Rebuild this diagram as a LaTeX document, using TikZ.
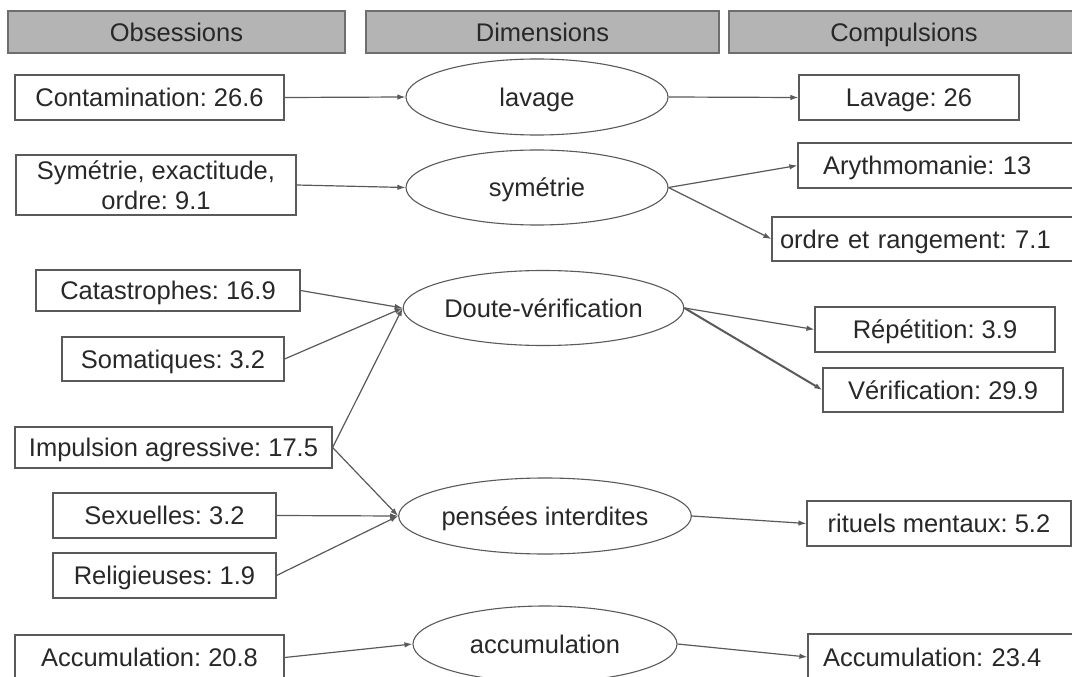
\documentclass[tikz,border=0pt]{standalone}
\usepackage{fontspec}
\setmainfont{Liberation Sans}
\frenchspacing
\usetikzlibrary{shapes.geometric,arrows.meta}
\definecolor{txt}{RGB}{40,40,40}
\definecolor{ln}{RGB}{90,90,90}
\definecolor{hdrfill}{RGB}{180,180,180}
\definecolor{hdrline}{RGB}{110,110,110}
\tikzset{
  every node/.style={font=\fontsize{25.5}{30}\selectfont\frenchspacing, text=txt},
  oneline/.style={text height=18.3pt, text depth=0pt},
  hdr/.style={oneline, draw=hdrline, fill=hdrfill, line width=1.2pt, inner sep=0pt, minimum height=42pt},
  box/.style={draw=ln, line width=1.2pt, inner sep=0pt, fill=white},
  ell/.style={oneline, draw=ln, line width=1.1pt, ellipse, inner sep=0pt, fill=white},
  conn/.style={draw=ln, line width=1.2pt, -{Latex[length=8pt,width=5.5pt]}},
}
\begin{document}
\begin{tikzpicture}[x=1pt,y=-1pt]
\useasboundingbox (0,0) rectangle (1072,677);
\clip (0,0) rectangle (1072,677);
\fill[white] (0,0) rectangle (1072,677);
% headers
\node[hdr, minimum width=337pt] (hobs) at (176.5,32) {Obsessions};
\node[hdr, minimum width=353pt] (hdim) at (542.5,32) {Dimensions};
\node[hdr, minimum width=350pt] (hcomp) at (904,32) {Compulsions};
% obsessions
\node[box, oneline, minimum width=269pt, minimum height=45pt] (contam) at (149.5,97.5) {Contamination: 26.6};
\node[box, minimum width=280pt, minimum height=60pt, align=center] (symo) at (156,185) {Symétrie, exactitude,\\ordre: 9.1};
\node[box, oneline, minimum width=264pt, minimum height=41pt] (catas) at (168,290.5) {Catastrophes: 16.9};
\node[box, oneline, minimum width=222pt, minimum height=44pt] (somat) at (173,359) {Somatiques: 3.2};
\node[box, oneline, minimum width=317pt, minimum height=41pt] (impul) at (173.5,447.5) {Impulsion agressive: 17.5};
\node[box, oneline, minimum width=223pt, minimum height=45pt] (sexu) at (164.5,515.5) {Sexuelles: 3.2};
\node[box, oneline, minimum width=223pt, minimum height=45pt] (relig) at (164.5,575.5) {Religieuses: 1.9};
\node[box, oneline, minimum width=269pt, minimum height=45pt] (accuo) at (149.5,657.5) {Accumulation: 20.8};
% dimensions
\node[ell, minimum width=262pt, minimum height=76pt] (lavage) at (537,97) {lavage};
\node[ell, minimum width=262pt, minimum height=75pt] (symd) at (537,187.5) {symétrie};
\node[ell, minimum width=267pt, minimum height=75pt] (doute) at (543.5,308) {Doute-vérification};
\node[ell, minimum width=264pt, minimum height=76pt] (pensees) at (545,516) {pensées interdites};
\node[ell, minimum width=264pt, minimum height=76pt] (accud) at (545,644) {accumulation};
% compulsions
\node[box, oneline, minimum width=220pt, minimum height=45pt] (lavc) at (909,97.5) {Lavage: 26};
\node[box, oneline, minimum height=45pt, inner xsep=25pt, text width=232pt, align=left] (aryth) at (939,165.5) {Arythmomanie: 13};
\node[box, oneline, minimum height=44pt, inner xsep=8pt, text width=292pt, align=left] (ordre) at (926,239) {ordre et rangement: 7.1};
\node[box, oneline, minimum width=240pt, minimum height=45pt] (repet) at (935,329.5) {Répétition: 3.9};
\node[box, oneline, minimum width=240pt, minimum height=44pt] (verif) at (943,390) {Vérification: 29.9};
\node[box, oneline, minimum width=264pt, minimum height=45pt] (rituels) at (939,523.5) {rituels mentaux: 5.2};
\node[box, oneline, minimum height=46pt, inner xsep=15pt, text width=242pt, align=left] (accuc) at (944,657) {Accumulation: 23.4};
% connectors
\draw[conn] (contam.east) -- (lavage.west);
\draw[conn] (lavage.east) -- (lavc.west);
\draw[conn] (symo.east) -- (symd.west);
\draw[conn] (symd.east) -- (aryth.west);
\draw[conn] (symd.east) -- (ordre.west);
\draw[conn] (catas.east) -- (doute.west);
\draw[conn] (somat.east) -- (doute.west);
\draw[conn] (impul.east) -- (doute.west);
\draw[conn] (impul.east) -- (pensees.west);
\draw[conn] (sexu.east) -- (pensees.west);
\draw[conn] (relig.east) -- (pensees.west);
\draw[conn] (doute.east) -- (repet.west);
\draw[conn, line width=2pt] (doute.east) -- (verif.west);
\draw[conn] (pensees.east) -- (rituels.west);
\draw[conn] (accuo.east) -- (accud.west);
\draw[conn] (accud.east) -- (accuc.west);
\end{tikzpicture}
\end{document}
